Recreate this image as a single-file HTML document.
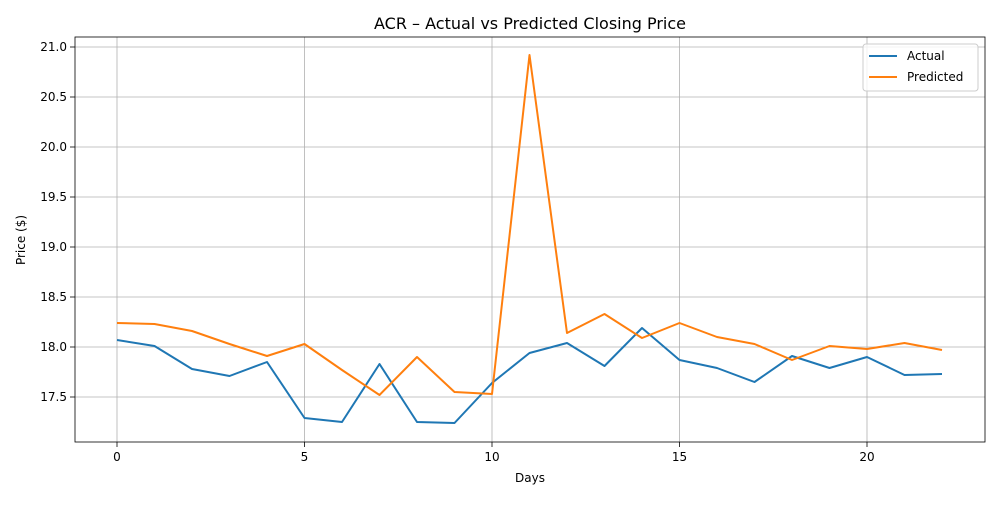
<!DOCTYPE html>
<html><head><meta charset="utf-8"><style>
body{margin:0;background:#fff;font-family:"Liberation Sans","DejaVu Sans",sans-serif}
svg text{font-family:"DejaVu Sans","Liberation Sans",sans-serif}
</style></head><body>
<svg id="c" width="1000" height="500" xmlns="http://www.w3.org/2000/svg"></svg>
<script>
const days=[0,1,2,3,4,5,6,7,8,9,10,11,12,13,14,15,16,17,18,19,20,21,22];
const actual=[18.07,18.01,17.78,17.71,17.85,17.29,17.25,17.83,17.25,17.24,17.64,17.94,18.04,17.81,18.19,17.87,17.79,17.65,17.91,17.79,17.90,17.72,17.73];
const predicted=[18.24,18.23,18.16,18.03,17.91,18.03,17.77,17.52,17.90,17.55,17.53,20.92,18.14,18.33,18.09,18.24,18.10,18.03,17.87,18.01,17.98,18.04,17.97];
const xTicks=[0,5,10,15,20];
const yTicks=[17.5,18.0,18.5,19.0,19.5,20.0,20.5,21.0];
const L=75,R=985,T=37,B=442;
const xs=v=>117+v*37.5;
const ys=v=>47+(21-v)*100;
const svg=document.getElementById('c');
const NS='http://www.w3.org/2000/svg';
function mk(t,a,p){const e=document.createElementNS(NS,t);for(const k in a)e.setAttribute(k,a[k]);(p||svg).appendChild(e);return e;}
const grid=mk('g',{});


xTicks.forEach(t=>{const x=xs(t);
 mk('line',{x1:x,x2:x,y1:T,y2:B,stroke:'#b0b0b0','stroke-width':0.8},grid);
 mk('line',{x1:x,x2:x,y1:B,y2:B+5,stroke:'#000','stroke-width':0.8});
 const tx=mk('text',{x:x,y:B+19,'font-size':12,'text-anchor':'middle'});tx.textContent=t;
 
 
});
yTicks.forEach(t=>{const y=ys(t);
 mk('line',{x1:L,x2:R,y1:y,y2:y,stroke:'#b0b0b0','stroke-width':0.8},grid);
 mk('line',{x1:L-5,x2:L,y1:y,y2:y,stroke:'#000','stroke-width':0.8});
 const tx=mk('text',{x:L-8,y:y+4,'font-size':12,'text-anchor':'end'});tx.textContent=t.toFixed(1);
 
 
});
function line(vals,color,name){const p=mk('polyline',{points:vals.map((v,i)=>xs(days[i])+','+ys(v)).join(' '),fill:'none',stroke:color,'stroke-width':2,'stroke-linejoin':'round'});
 
 }
line(actual,'#1f77b4','actual-line');
line(predicted,'#ff7f0e','predicted-line');
const fr=mk('rect',{x:L,y:T,width:R-L,height:B-T,fill:'none',stroke:'#000','stroke-width':0.8});


let t=mk('text',{x:530,y:29,'font-size':16,'text-anchor':'middle'});t.textContent='ACR – Actual vs Predicted Closing Price';


t=mk('text',{x:530,y:482,'font-size':12,'text-anchor':'middle'});t.textContent='Days';


t=mk('text',{x:25,y:240,'font-size':12,'text-anchor':'middle',transform:'rotate(-90 25 240)'});t.textContent='Price ($)';


const lg=mk('g',{});


mk('rect',{x:863,y:44,width:115,height:47,rx:3,fill:'#fff',stroke:'#ccc','stroke-width':1,'fill-opacity':0.8},lg);
[['Actual','#1f77b4',56],['Predicted','#ff7f0e',77]].forEach(([n,c,y])=>{
 const e=mk('g',{},lg);
 
 
 mk('line',{x1:869,x2:897,y1:y,y2:y,stroke:c,'stroke-width':2},e);
 const tx=mk('text',{x:907,y:y+4,'font-size':12},e);tx.textContent=n;
});
</script>
</body></html>
